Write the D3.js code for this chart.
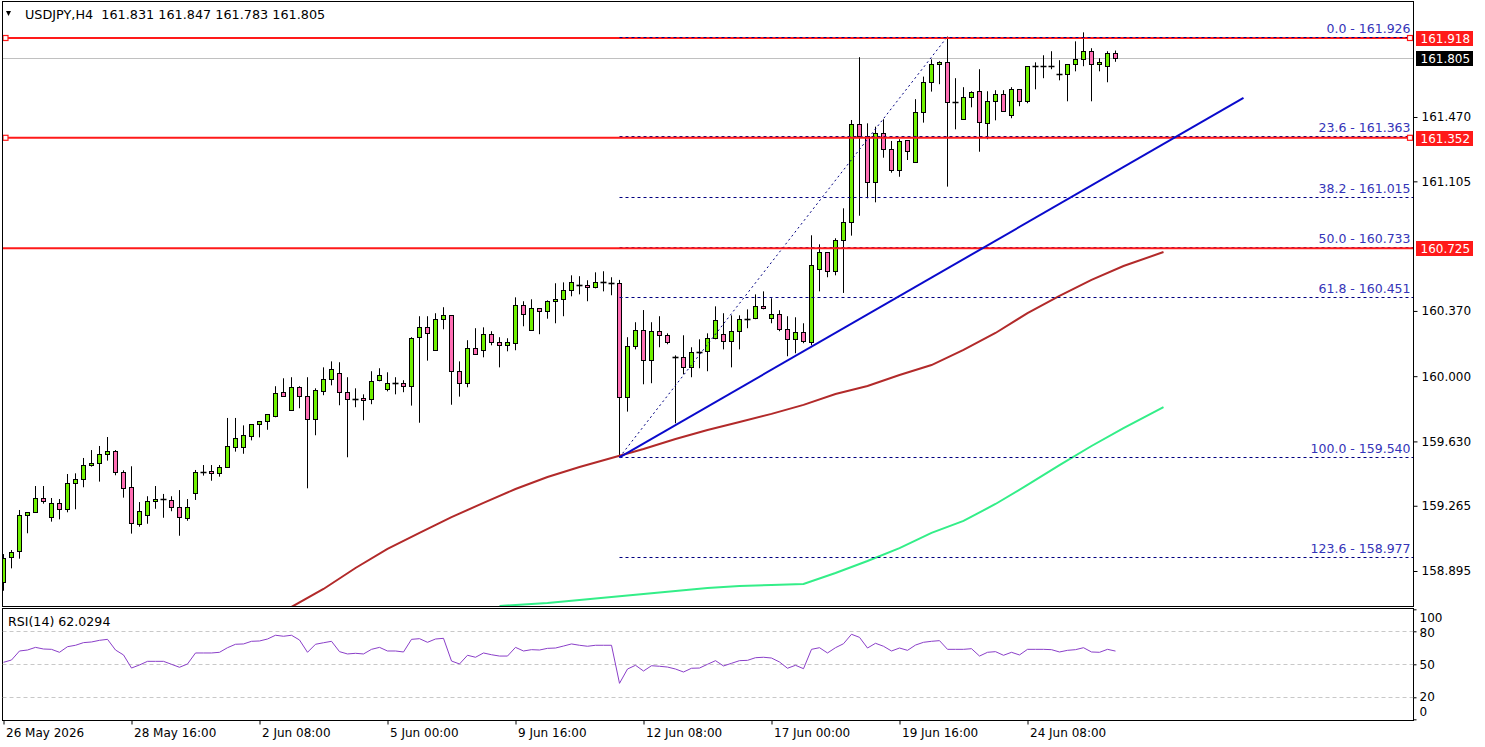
<!DOCTYPE html>
<html>
<head>
<meta charset="utf-8">
<script src="https://cdn.jsdelivr.net/npm/d3@7"></script>
<style>
body { margin: 0; background: #fff; }
svg { display: block; font-family: "DejaVu Sans", Tahoma, sans-serif; }
</style>
</head>
<body>
<div id="chart"></div>
<script>
// USDJPY H4 candles, index 0 = 26 May 2026 00:00
const open = [158.834,158.973,159.008,159.211,159.228,159.307,159.200,159.279,159.245,159.392,
159.415,159.495,159.506,159.557,159.574,159.455,159.370,159.160,159.211,159.290,
159.302,159.296,159.256,159.194,159.336,159.458,159.461,159.449,159.483,159.597,
159.597,159.659,159.727,159.744,159.772,159.909,159.807,159.937,159.886,159.755,
159.914,159.982,160.016,159.909,159.872,159.875,159.869,159.977,159.926,159.960,
159.960,159.947,160.221,160.277,160.147,160.323,160.345,160.028,159.960,160.158,
160.147,160.238,160.192,160.175,160.187,160.402,160.260,160.385,160.368,160.425,
160.436,160.487,160.516,160.516,160.504,160.532,160.529,160.527,159.880,160.169,
160.260,160.090,160.255,160.232,160.107,160.107,160.050,160.135,160.141,160.215,
160.238,160.198,160.255,160.323,160.328,160.396,160.328,160.351,160.266,160.209,
160.249,160.192,160.606,160.703,160.595,160.772,160.873,161.429,161.364,161.103,
161.378,161.287,161.168,161.338,161.213,161.497,161.667,161.769,161.780,161.557,
161.457,161.582,161.616,161.434,161.559,161.599,161.480,161.627,161.559,161.758,
161.761,161.761,161.714,161.712,161.769,161.797,161.843,161.769,161.758,161.831];
const high = [158.991,159.014,159.241,159.228,159.377,159.377,159.309,159.303,159.445,159.449,
159.536,159.581,159.604,159.655,159.581,159.466,159.489,159.286,159.319,159.377,
159.332,159.319,159.354,159.303,159.468,159.496,159.496,159.496,159.763,159.763,
159.721,159.727,159.744,159.784,159.943,159.988,159.994,159.943,159.994,159.931,
160.050,160.084,160.079,159.994,159.931,159.897,160.028,160.045,160.022,159.994,
159.977,160.221,160.340,160.340,160.357,160.391,160.345,160.084,160.204,160.272,
160.277,160.255,160.221,160.215,160.447,160.425,160.436,160.385,160.430,160.527,
160.532,160.572,160.567,160.544,160.589,160.595,160.561,160.546,160.221,160.306,
160.375,160.306,160.340,160.243,160.118,160.232,160.164,160.209,160.243,160.396,
160.357,160.345,160.345,160.379,160.464,160.481,160.442,160.374,160.340,160.334,
160.300,160.799,160.748,160.703,160.782,160.952,161.453,161.809,161.434,161.415,
161.457,161.334,161.344,161.338,161.571,161.699,161.797,161.786,161.926,161.690,
161.639,161.616,161.741,161.616,161.622,161.622,161.639,161.627,161.758,161.780,
161.820,161.843,161.792,161.769,161.899,161.950,161.860,161.803,161.843,161.847];
const low = [158.783,158.910,158.965,159.109,159.228,159.277,159.175,159.188,159.228,159.245,
159.370,159.487,159.402,159.521,159.438,159.311,159.107,159.146,159.163,159.248,
159.197,159.234,159.095,159.180,159.298,159.436,159.407,159.430,159.483,159.572,
159.560,159.636,159.653,159.696,159.767,159.886,159.807,159.818,159.364,159.665,
159.892,159.948,159.835,159.540,159.824,159.750,159.841,159.971,159.914,159.897,
159.909,159.833,159.736,160.088,160.147,160.266,159.838,159.884,159.937,160.124,
160.107,160.175,160.050,160.141,160.147,160.283,160.260,160.238,160.326,160.300,
160.340,160.453,160.464,160.425,160.498,160.481,160.459,159.540,159.799,160.152,
159.954,159.960,160.164,160.181,159.733,160.011,159.994,160.045,160.028,160.209,
160.152,160.050,160.152,160.272,160.323,160.379,160.300,160.255,160.113,160.130,
160.187,160.175,160.481,160.561,160.572,160.472,160.797,160.910,161.009,160.986,
161.239,161.154,161.131,161.226,161.213,161.438,161.614,161.656,161.075,161.400,
161.457,161.525,161.273,161.344,161.451,161.502,161.463,161.531,161.548,161.627,
161.690,161.741,161.678,161.559,161.729,161.758,161.559,161.729,161.667,161.783];
const close = [158.967,159.001,159.211,159.228,159.307,159.290,159.279,159.245,159.392,159.415,
159.495,159.506,159.557,159.574,159.455,159.364,159.166,159.234,159.290,159.302,
159.302,159.256,159.200,159.256,159.455,159.458,159.449,159.483,159.602,159.648,
159.665,159.727,159.744,159.784,159.903,159.886,159.937,159.886,159.755,159.920,
159.982,160.039,159.909,159.869,159.872,159.863,159.971,160.005,159.960,159.960,
159.947,160.215,160.277,160.243,160.323,160.345,160.028,159.960,160.158,160.124,
160.238,160.192,160.175,160.192,160.402,160.351,160.385,160.368,160.425,160.436,
160.487,160.532,160.516,160.504,160.532,160.532,160.529,159.884,160.169,160.260,
160.090,160.255,160.232,160.192,160.107,160.050,160.135,160.135,160.215,160.317,
160.198,160.255,160.323,160.323,160.396,160.385,160.351,160.266,160.209,160.249,
160.198,160.629,160.703,160.595,160.771,160.873,161.429,161.364,161.103,161.378,
161.287,161.168,161.332,161.276,161.497,161.667,161.769,161.780,161.553,161.557,
161.582,161.610,161.440,161.559,161.599,161.502,161.627,161.559,161.758,161.758,
161.761,161.761,161.714,161.769,161.797,161.843,161.769,161.780,161.831,161.805];

// moving averages (shifted forward), read at bar indexes
const maSlowIdx = [36,40,44,48,52,56,60,64,68,72,76,80,84,88,92,96,100,104,108,112,116,120,124,128,132,136,140,145];
const maSlow = [158.691,158.793,158.912,159.020,159.111,159.201,159.281,159.360,159.428,159.485,159.536,159.587,159.644,159.695,
159.740,159.786,159.837,159.899,159.944,160.007,160.063,160.149,160.245,160.358,160.455,160.546,160.625,160.704];
const maLongIdx = [62,64,68,72,76,80,84,88,92,96,100,104,108,112,116,120,124,128,132,136,140,145];
const maLong = [158.697,158.702,158.714,158.731,158.748,158.765,158.782,158.799,158.810,158.816,158.821,
158.884,158.952,159.025,159.111,159.179,159.275,159.383,159.496,159.604,159.706,159.825];

const rsi = [51.8,53.9,62.1,63.0,65.4,63.9,63.6,60.9,66.0,67.3,69.7,70.3,71.8,72.7,63.0,58.5,46.6,49.4,52.7,52.7,
52.7,50.0,47.3,50.3,60.3,60.3,60.3,60.9,65.1,68.2,68.5,70.9,71.2,73.0,76.4,75.5,76.4,72.1,60.9,68.2,
69.6,70.9,61.5,59.4,60.0,59.4,63.6,65.4,62.1,62.1,61.2,72.7,73.3,70.0,73.0,73.6,53.0,50.3,58.2,56.4,
60.3,58.7,57.5,57.5,65.4,62.1,63.3,63.0,64.5,64.8,66.6,68.5,67.3,66.4,67.3,67.3,67.3,32.7,45.7,49.1,
43.9,48.7,48.2,47.5,45.7,43.0,46.4,46.6,50.0,53.3,48.5,50.9,53.3,53.6,56.0,56.4,55.7,52.1,46.4,49.1,
46.0,63.6,65.1,60.3,65.1,68.7,77.3,74.5,64.8,69.1,66.4,62.1,64.8,62.7,67.5,70.0,70.9,71.5,63.6,63.6,
63.6,64.2,57.5,60.9,61.5,58.2,60.9,58.5,63.6,63.6,63.6,63.3,61.2,62.7,63.3,65.1,61.2,60.9,63.6,62.0294];

const fibRatios = ["0.0","23.6","38.2","50.0","61.8","100.0","123.6"];
const fibPrices = [161.926,161.363,161.015,160.733,160.451,159.540,158.977];
const fibFrom = [77, 159.540];
const fibTo = [118, 161.926];

const trendIdx = [77, 155];
const trendPrice = [159.540, 161.578];

const redLevels = [161.918, 161.352, 160.725];
const redSelected = [true, true, false];
const bid = 161.805;

const priceTicks = [161.470, 161.105, 160.370, 160.000, 159.630, 159.265, 158.895];
const rsiTicks = [100, 80, 50, 20, 0];
const rsiGrid = [80, 50, 20];
const timeIdx = [0,16,32,48,64,80,96,112,128];
const timeLabels = ["26 May 2026","28 May 16:00","2 Jun 08:00","5 Jun 00:00","9 Jun 16:00",
                    "12 Jun 08:00","17 Jun 00:00","19 Jun 16:00","24 Jun 08:00"];

const header = "USDJPY,H4  161.831 161.847 161.783 161.805";

const svgWidth = 1485;
const svgHeight = 747;
const left = 2.5, right = 1413.5;
const priceTop = 1.5, priceBottom = 606.5;
const rsiTop = 608.5, rsiBottom = 720.5;

const x = d3.scaleLinear().domain([0, 1]).range([3.5, 11.5]);
const y = d3.scaleLinear().domain([158.895, 161.918]).range([571, 38]);
const yr = d3.scaleLinear().domain([0, 100]).range([719.3, 609.3]);

const svg = d3.select("#chart").append("svg")
    .attr("width", svgWidth)
    .attr("height", svgHeight);

svg.append("rect")
    .attr("width", svgWidth)
    .attr("height", svgHeight)
    .attr("fill", "white");

const defs = svg.append("defs");
defs.append("clipPath").attr("id", "clip-price")
    .append("rect")
    .attr("x", left).attr("y", priceTop)
    .attr("width", right - left).attr("height", priceBottom - priceTop);
defs.append("clipPath").attr("id", "clip-rsi")
    .append("rect")
    .attr("x", left).attr("y", rsiTop)
    .attr("width", right - left).attr("height", rsiBottom - rsiTop);

const price = svg.append("g").attr("clip-path", "url(#clip-price)");

const crisp = v => Math.round(v) + 0.5;

// bid line
price.append("line")
    .attr("x1", left).attr("x2", right)
    .attr("y1", crisp(y(bid))).attr("y2", crisp(y(bid)))
    .attr("stroke", "#c0c0c0");

// candles
const bars = d3.range(open.length).map(i => ({i, o: open[i], h: high[i], l: low[i], c: close[i]}));

price.selectAll(".wick").data(bars).enter().append("line")
    .attr("x1", d => x(d.i)).attr("x2", d => x(d.i))
    .attr("y1", d => y(d.h)).attr("y2", d => y(d.l))
    .attr("stroke", "black");

bars.forEach(d => {
    const top = crisp(y(Math.max(d.o, d.c)));
    const bot = crisp(y(Math.min(d.o, d.c)));
    if (bot - top < 1) {
        price.append("line")
            .attr("x1", x(d.i) - 3).attr("x2", x(d.i) + 3)
            .attr("y1", top).attr("y2", top)
            .attr("stroke", "black")
            .attr("stroke-width", 1.6);
    } else {
        price.append("rect")
            .attr("x", x(d.i) - 2)
            .attr("y", top)
            .attr("width", 4)
            .attr("height", bot - top)
            .attr("fill", d.c > d.o ? "#6ff000" : "#ff6eb4")
            .attr("stroke", "black");
    }
});

// moving averages
const maLine = d3.line().x(d => x(d[0])).y(d => y(d[1]));
price.append("path")
    .attr("d", maLine(maSlowIdx.map((d, k) => [d, maSlow[k]])))
    .attr("fill", "none")
    .attr("stroke", "#b22a2a")
    .attr("stroke-width", 2);
price.append("path")
    .attr("d", maLine(maLongIdx.map((d, k) => [d, maLong[k]])))
    .attr("fill", "none")
    .attr("stroke", "#33ee88")
    .attr("stroke-width", 2);

// fibonacci
price.selectAll(".fib").data(fibPrices).enter().append("line")
    .attr("x1", x(fibFrom[0])).attr("x2", right)
    .attr("y1", d => crisp(y(d))).attr("y2", d => crisp(y(d)))
    .attr("stroke", "#000080")
    .attr("stroke-dasharray", "3,3");

price.append("line")
    .attr("x1", x(fibFrom[0])).attr("y1", y(fibFrom[1]))
    .attr("x2", x(fibTo[0])).attr("y2", y(fibTo[1]))
    .attr("stroke", "#000080")
    .attr("stroke-dasharray", "2,3");

// horizontal levels
price.selectAll(".level").data(redLevels).enter().append("line")
    .attr("x1", left).attr("x2", right)
    .attr("y1", d => y(d)).attr("y2", d => y(d))
    .attr("stroke", "#ff1a1a")
    .attr("stroke-width", 2);

// fib dashes over the top level
price.append("line")
    .attr("x1", x(fibFrom[0])).attr("x2", right)
    .attr("y1", crisp(y(fibPrices[0]))).attr("y2", crisp(y(fibPrices[0])))
    .attr("stroke", "#000080")
    .attr("stroke-dasharray", "3,3");

// trend line
price.append("line")
    .attr("x1", x(trendIdx[0])).attr("y1", y(trendPrice[0]))
    .attr("x2", x(trendIdx[1])).attr("y2", y(trendPrice[1]))
    .attr("stroke", "#0a0acc")
    .attr("stroke-width", 2);

// selection markers
redLevels.forEach((d, k) => {
    if (!redSelected[k]) return;
    [5.5, right - 3.5].forEach(cx => {
        svg.append("rect")
            .attr("x", cx - 2.5).attr("y", y(d) - 2.5)
            .attr("width", 5).attr("height", 5)
            .attr("fill", "white")
            .attr("stroke", "#ff1a1a")
            .attr("stroke-width", 1.2);
    });
});

// fib labels
svg.selectAll(".fib-label").data(fibPrices).enter().append("text")
    .attr("x", right - 3)
    .attr("y", d => y(d) - 4)
    .attr("text-anchor", "end")
    .attr("font-size", "12.5px")
    .attr("fill", "#3434b8")
    .text((d, k) => fibRatios[k] + " - " + d.toFixed(3));

// frames
svg.append("rect")
    .attr("x", left).attr("y", priceTop)
    .attr("width", right - left).attr("height", priceBottom - priceTop)
    .attr("fill", "none").attr("stroke", "black");
svg.append("rect")
    .attr("x", left).attr("y", rsiTop)
    .attr("width", right - left).attr("height", rsiBottom - rsiTop)
    .attr("fill", "none").attr("stroke", "black");

// price axis
const pAxis = svg.append("g")
    .attr("transform", `translate(${right},0)`)
    .call(d3.axisRight(y).tickValues(priceTicks).tickFormat(d3.format(".3f")).tickSize(4).tickPadding(4));
pAxis.select(".domain").remove();
pAxis.selectAll("text").attr("font-size", "12px").attr("font-family", "DejaVu Sans, sans-serif").attr("fill", "black");

function priceLabel(value, bg) {
    const cy = Math.round(y(value));
    svg.append("rect")
        .attr("x", right + 2.5).attr("y", cy - 7)
        .attr("width", 57).attr("height", 15)
        .attr("fill", bg);
    svg.append("text")
        .attr("x", right + 7).attr("y", cy + 5)
        .attr("font-size", "12px")
        .attr("fill", "white")
        .text(value.toFixed(3));
}
redLevels.forEach(d => priceLabel(d, "#ff1a1a"));
priceLabel(bid, "black");

// header
svg.append("path")
    .attr("d", "M6,11 L11,11 L8.5,16 Z")
    .attr("fill", "black");
svg.append("text")
    .attr("x", 25).attr("y", 18.5)
    .attr("font-size", "12.8px")
    .attr("fill", "black")
    .style("white-space", "pre")
    .text(header);

// RSI panel
const rsiG = svg.append("g").attr("clip-path", "url(#clip-rsi)");
rsiG.selectAll(".grid").data(rsiGrid).enter().append("line")
    .attr("x1", left).attr("x2", right)
    .attr("y1", d => crisp(yr(d))).attr("y2", d => crisp(yr(d)))
    .attr("stroke", "#c8c8c8")
    .attr("stroke-dasharray", "4,3");
rsiG.append("path")
    .attr("d", d3.line().x((d, i) => x(i)).y(d => yr(d))(rsi))
    .attr("fill", "none")
    .attr("stroke", "#8a3fc8")
    .attr("stroke-width", 1);

svg.append("text")
    .attr("x", 8).attr("y", 626)
    .attr("font-size", "12.6px")
    .attr("fill", "black")
    .text("RSI(14) " + rsi[rsi.length - 1].toFixed(4));

const rsiDy = {100: "1.05em", 80: "0.45em", 50: "0.32em", 20: "0.3em", 0: "-0.3em"};
const rAxis = svg.append("g")
    .attr("transform", `translate(${right},0)`)
    .call(d3.axisRight(yr).tickValues(rsiTicks).tickSize(3).tickPadding(3));
rAxis.select(".domain").remove();
rAxis.selectAll("text")
    .attr("font-size", "12px")
    .attr("font-family", "DejaVu Sans, sans-serif")
    .attr("fill", "black")
    .attr("dy", d => rsiDy[d]);

// time axis
const tAxis = svg.append("g")
    .attr("transform", `translate(0,${rsiBottom})`)
    .call(d3.axisBottom(x).tickValues(timeIdx).tickFormat((d, k) => timeLabels[k]).tickSize(4));
tAxis.select(".domain").remove();
tAxis.selectAll("text")
    .attr("font-size", "12px")
    .attr("font-family", "DejaVu Sans, sans-serif")
    .attr("fill", "black")
    .attr("text-anchor", "start")
    .attr("x", 2)
    .attr("y", 8);
</script>
</body>
</html>
